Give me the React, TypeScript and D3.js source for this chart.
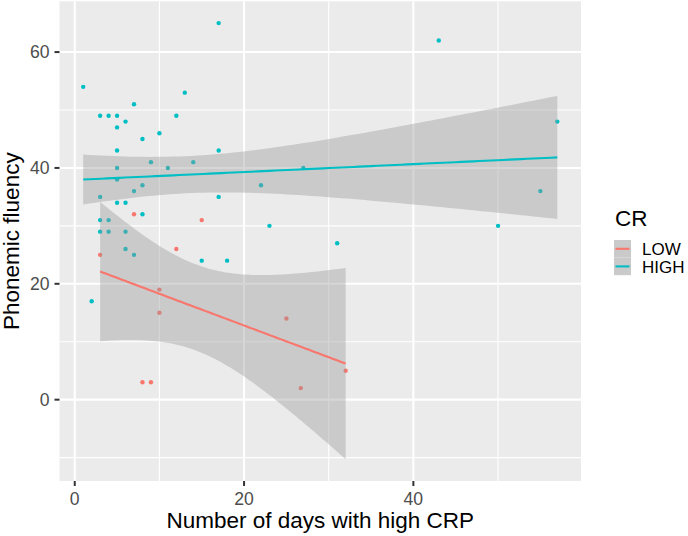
import React from "react";
import * as d3 from "d3";

const lowX = [3, 7, 8, 9, 10, 10, 12, 15, 25, 26.7, 32];
const lowY = [25, 32, 3, 3, 19, 15, 26, 31, 14, 2, 5];

const highX = [1, 17, 43, 13, 7, 3, 4, 5, 12, 6, 5, 8, 10, 5, 17, 9, 14, 5, 11, 27, 5, 8, 22, 7, 3, 17, 5, 6, 8, 3, 4, 23, 3, 4, 6, 31, 6, 7, 15, 18, 2, 57, 55, 50];
const highY = [54, 65, 62, 53, 51, 49, 49, 49, 49, 48, 47, 45, 46, 43, 43, 41, 41, 40, 40, 40, 38, 37, 37, 36, 35, 35, 34, 34, 32, 31, 31, 30, 29, 29, 29, 27, 26, 25, 24, 24, 17, 48, 36, 30];

const groups = ["LOW", "HIGH"];
const colors = ["#F8766D", "#00BFC4"];
const xTicks = [0, 20, 40];
const xMinor = [10, 30, 50];
const yTicks = [0, 20, 40, 60];
const yMinor = [-10, 10, 30, 50];

function tq(df: number) {
  const z = 1.959964;
  const z3 = z ** 3, z5 = z ** 5, z7 = z ** 7;
  return z + (z3 + z) / (4 * df) + (5 * z5 + 16 * z3 + 3 * z) / (96 * df * df) + (3 * z7 + 19 * z5 + 17 * z3 - 15 * z) / (384 * df ** 3);
}

function smooth(xs: number[], ys: number[]) {
  const n = xs.length;
  const mx = d3.mean(xs)!, my = d3.mean(ys)!;
  let sxx = 0, sxy = 0;
  xs.forEach((x, i) => { sxx += (x - mx) ** 2; sxy += (x - mx) * (ys[i] - my); });
  const b = sxy / sxx, a = my - b * mx;
  let ss = 0;
  xs.forEach((x, i) => { ss += (ys[i] - a - b * x) ** 2; });
  const s = Math.sqrt(ss / (n - 2));
  const t = tq(n - 2);
  const [x0, x1] = d3.extent(xs) as [number, number];
  return d3.range(80).map((k) => {
    const x = x0 + (x1 - x0) * k / 79;
    const y = a + b * x;
    const se = s * Math.sqrt(1 / n + (x - mx) ** 2 / sxx);
    return { x, y, lo: y - t * se, hi: y + t * se };
  });
}

export default function App() {
  const W = 688, H = 536;
  const left = 59.5, right = 581, top = 1.3, bottom = 481;
  const sets = [
    { xs: lowX, ys: lowY },
    { xs: highX, ys: highY },
  ];
  const fits = sets.map((s) => smooth(s.xs, s.ys));
  const allX = [...lowX, ...highX];
  const allY = [...lowY, ...highY, ...fits.flatMap((f) => f.flatMap((p) => [p.lo, p.hi]))];
  const [ax0, ax1] = d3.extent(allX) as [number, number];
  const [ay0, ay1] = d3.extent(allY) as [number, number];
  const ex = (ax1 - ax0) * 0.05, ey = (ay1 - ay0) * 0.05;
  const x = d3.scaleLinear().domain([ax0 - ex, ax1 + ex]).range([left, right]);
  const y = d3.scaleLinear().domain([ay0 - ey, ay1 + ey]).range([bottom, top]);
  const area = d3.area<any>().x((d) => x(d.x)).y0((d) => y(d.lo)).y1((d) => y(d.hi));
  const line = d3.line<any>().x((d) => x(d.x)).y((d) => y(d.y));
  const font = "'Liberation Sans', Arial, sans-serif";

  return (
    <div style={{ position: "absolute", left: 0, top: 0 }}>
      <svg width={W} height={H} style={{ display: "block" }} fontFamily={font}>
        <rect x={0} y={0} width={W} height={H} fill="#fff" />
        <rect x={left} y={top} width={right - left} height={bottom - top} fill="#EBEBEB" />
        {yMinor.map((v) => (
          <line key={"ym" + v} x1={left} x2={right} y1={y(v)} y2={y(v)} stroke="#fff" strokeWidth={1.1} />
        ))}
        {xMinor.map((v) => (
          <line key={"xm" + v} x1={x(v)} x2={x(v)} y1={top} y2={bottom} stroke="#fff" strokeWidth={1.1} />
        ))}
        {yTicks.map((v) => (
          <line key={"yM" + v} x1={left} x2={right} y1={y(v)} y2={y(v)} stroke="#fff" strokeWidth={2.1} />
        ))}
        {xTicks.map((v) => (
          <line key={"xM" + v} x1={x(v)} x2={x(v)} y1={top} y2={bottom} stroke="#fff" strokeWidth={2.1} />
        ))}
        {sets.map((s, g) =>
          s.xs.map((xv, i) => (
            <circle key={g + "-" + i} cx={x(xv)} cy={y(s.ys[i])} r={2.2} fill={colors[g]} />
          ))
        )}
        {fits.map((f, g) => (
          <g key={"f" + g}>
            <path d={area(f)!} fill="#999999" fillOpacity={0.4} />
            <path d={line(f)!} fill="none" stroke={colors[g]} strokeWidth={2.1} />
          </g>
        ))}
        {yTicks.map((v) => (
          <g key={"yt" + v}>
            <line x1={left - 5} x2={left} y1={y(v)} y2={y(v)} stroke="#333" strokeWidth={2} />
            <text x={left - 10} y={y(v)} dy="0.36em" textAnchor="end" fontSize={17.6} fill="#4D4D4D">{v}</text>
          </g>
        ))}
        {xTicks.map((v) => (
          <g key={"xt" + v}>
            <line x1={x(v)} x2={x(v)} y1={bottom} y2={bottom + 5} stroke="#333" strokeWidth={2} />
            <text x={x(v)} y={504.5} textAnchor="middle" fontSize={17.6} fill="#4D4D4D">{v}</text>
          </g>
        ))}
        <text x={(left + right) / 2} y={528} textAnchor="middle" fontSize={22.5} fill="#000">Number of days with high CRP</text>
        <text transform={`translate(18.5, ${(top + bottom) / 2}) rotate(-90)`} textAnchor="middle" fontSize={22.5} fill="#000">Phonemic fluency</text>
        <text x={615} y={225.5} fontSize={22.5} fill="#000">CR</text>
        {groups.map((gname, g) => (
          <g key={"lg" + g}>
            <rect x={614} y={240 + g * 17.6} width={17} height={17.6} fill="#CACACA" />
            <line x1={615.5} x2={629.5} y1={248.8 + g * 17.6} y2={248.8 + g * 17.6} stroke={colors[g]} strokeWidth={2.1} />
            <text x={642} y={255 + g * 17.6} fontSize={17} fill="#000">{gname}</text>
          </g>
        ))}
      </svg>
    </div>
  );
}
